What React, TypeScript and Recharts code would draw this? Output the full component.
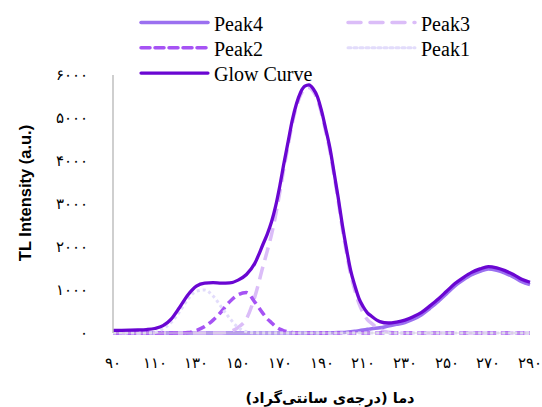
import React from 'react';
import { LineChart, Line, XAxis, YAxis, Legend } from 'recharts';

const temps = [
  90, 94, 98, 102, 106, 110, 114, 118,
  122, 126, 130, 134, 138, 142, 146, 150,
  154, 158, 162, 164, 166, 168, 170, 172,
  174, 176, 178, 180, 182, 184, 186, 188,
  190, 192, 194, 196, 198, 200, 202, 204,
  206, 208, 210, 212, 214, 218, 222, 226,
  230, 234, 238, 242, 246, 250, 254, 258,
  262, 266, 270, 274, 278, 282, 286, 290,
];

const glowCurve = [
  60, 62, 65, 70, 80, 105, 170, 330,
  600, 890, 1090, 1160, 1170, 1160, 1165, 1230,
  1360, 1620, 2070, 2300, 2580, 2950, 3420, 3950,
  4450, 4950, 5330, 5600, 5740, 5770, 5680, 5500,
  5170, 4750, 4310, 3740, 3150, 2510, 1950, 1450,
  1100, 800, 610, 470, 390, 265, 232, 255,
  300, 380, 480, 630, 790, 970, 1150, 1290,
  1410, 1490, 1545, 1515, 1450, 1360, 1250, 1180,
];

const peak1 = [
  0, 0, 0, 0, 0, 10, 100, 250,
  500, 790, 970, 1000, 860, 600, 340, 130,
  30, 5, 0, 0, 0, 0, 0, 0,
  0, 0, 0, 0, 0, 0, 0, 0,
  0, 0, 0, 0, 0, 0, 0, 0,
  0, 0, 0, 0, 0, 0, 0, 0,
  0, 0, 0, 0, 0, 0, 0, 0,
  0, 0, 0, 0, 0, 0, 0, 0,
];

const peak2 = [
  0, 0, 0, 0, 0, 0, 0, 0,
  0, 10, 60, 150, 300, 500, 730, 890,
  940, 720, 450, 330, 240, 150, 90, 50,
  25, 10, 0, 0, 0, 0, 0, 0,
  0, 0, 0, 0, 0, 0, 0, 0,
  0, 0, 0, 0, 0, 0, 0, 0,
  0, 0, 0, 0, 0, 0, 0, 0,
  0, 0, 0, 0, 0, 0, 0, 0,
];

const peak3 = [
  0, 0, 0, 0, 0, 0, 0, 0,
  0, 0, 0, 0, 0, 0, 30, 130,
  330, 840, 1560, 1910, 2280, 2740, 3270, 3840,
  4365, 4880, 5270, 5540, 5680, 5710, 5620, 5440,
  5110, 4690, 4245, 3675, 3080, 2430, 1870, 1360,
  995, 680, 465, 310, 225, 80, 20, 5,
  0, 0, 0, 0, 0, 0, 0, 0,
  0, 0, 0, 0, 0, 0, 0, 0,
];

const peak4 = [
  0, 0, 0, 0, 0, 0, 0, 0,
  0, 0, 0, 0, 0, 0, 0, 0,
  0, 0, 0, 0, 0, 0, 0, 0,
  0, 0, 0, 0, 0, 0, 0, 0,
  0, 2, 4, 6, 9, 13, 19, 28,
  40, 55, 70, 85, 100, 120, 160, 200,
  245, 320, 425, 575, 735, 915, 1095, 1235,
  1355, 1435, 1490, 1460, 1395, 1305, 1195, 1125,
];

const xTicks = [90, 110, 130, 150, 170, 190, 210, 230, 250, 270, 290];
const yTicks = [0, 1000, 2000, 3000, 4000, 5000, 6000];

const xTitle = 'دما (درجه‌ی سانتی‌گراد)';
const yTitle = 'TL Intensity  (a.u.)';

const persianDigits = '۰۱۲۳۴۵۶۷۸۹';
const toPersian = (n: number) => String(n).replace(/\d/g, (d) => persianDigits[+d]);

const data = temps.map((t, i) => ({
  t,
  glow: glowCurve[i],
  p1: peak1[i],
  p2: peak2[i],
  p3: peak3[i],
  p4: peak4[i],
}));

const C_GLOW = '#6a06d2';
const C_P4 = '#9b70f0';
const C_P3 = '#dbbdf8';
const C_P2 = '#a653f4';
const C_P1 = '#e2dcfb';

const SERIF = "'Times New Roman', 'Liberation Serif', Times, serif";

const legendItems = [
  { name: 'Peak4', color: C_P4, dash: undefined, col: 0, row: 0, w: 3.5 },
  { name: 'Peak3', color: C_P3, dash: '13 9', col: 1, row: 0, w: 3.5 },
  { name: 'Peak2', color: C_P2, dash: '9 5', col: 0, row: 1, w: 3.5 },
  { name: 'Peak1', color: C_P1, dash: '3 3', col: 1, row: 1, w: 3 },
  { name: 'Glow Curve', color: C_GLOW, dash: undefined, col: 0, row: 2, w: 3.2 },
];

const renderLegend = () => (
  <svg width={542} height={90} style={{ display: 'block', overflow: 'visible' }}>
    {legendItems.map((it) => {
      const x0 = it.col === 0 ? 141 : 348;
      const y = 22.5 + it.row * 25.3;
      return (
        <g key={it.name}>
          <line x1={x0} x2={x0 + 67} y1={y} y2={y} stroke={it.color} strokeWidth={it.w}
            strokeDasharray={it.dash} strokeLinecap="round" />
          <text x={x0 + 73} y={y + 8} style={{ fontFamily: SERIF, fontSize: 20 }} fill="#000">
            {it.name}
          </text>
        </g>
      );
    })}
  </svg>
);

const XTick = (props: any) => {
  const { x, payload } = props;
  return (
    <text x={x} y={368} textAnchor="middle" style={{ fontFamily: SERIF, fontSize: 15, letterSpacing: 1 }} fill="#000">
      {toPersian(payload.value)}
    </text>
  );
};

const YTick = (props: any) => {
  const { y, payload } = props;
  return (
    <text x={88} y={y + 5} textAnchor="end" style={{ fontFamily: SERIF, fontSize: 15, letterSpacing: 2.5 }} fill="#000">
      {toPersian(payload.value)}
    </text>
  );
};

const YTitle = () => (
  <text x={31} y={193} transform="rotate(-90 31 193)" textAnchor="middle"
    style={{ fontFamily: "'Liberation Sans', Arial, sans-serif", fontWeight: 'bold', fontSize: 16.5 }} fill="#000">
    {yTitle}
  </text>
);

const XTitle = () => (
  <text x={330} y={403} textAnchor="middle" direction="rtl"
    style={{ fontFamily: "'DejaVu Sans', sans-serif", fontWeight: 'bold', fontSize: 14.5, direction: 'rtl', unicodeBidi: 'embed' }} fill="#000">
    {xTitle}
  </text>
);

export default function App() {
  return (
    <div style={{ position: 'absolute', left: 0, top: 0, width: 542, height: 407, background: '#fff' }}>
      <LineChart width={542} height={407} data={data} margin={{ top: 75, right: 12, bottom: 24, left: 0 }}>
        <XAxis dataKey="t" type="number" domain={[90, 290]} ticks={xTicks} interval={0}
          axisLine={{ stroke: '#d9d9d9' }} tickLine={false} height={50} tick={<XTick />}
          label={<XTitle />} />
        <YAxis type="number" domain={[0, 6000]} ticks={yTicks} interval={0} width={113}
          axisLine={{ stroke: '#bfbfbf', strokeWidth: 1.5 }} tickLine={false} tick={<YTick />}
          label={<YTitle />} />
        <Legend content={renderLegend} verticalAlign="top"
          wrapperStyle={{ position: 'absolute', top: 0, left: 0, width: 542, height: 0, overflow: 'visible' }} />
        <Line dataKey="p4" name="Peak4" type="monotone" stroke={C_P4} strokeWidth={3.5} dot={false} isAnimationActive={false} />
        <Line dataKey="p3" name="Peak3" type="monotone" stroke={C_P3} strokeWidth={3.5} strokeDasharray="13 7" dot={false} isAnimationActive={false} />
        <Line dataKey="p2" name="Peak2" type="monotone" stroke={C_P2} strokeWidth={3.5} strokeDasharray="9 5" dot={false} isAnimationActive={false} />
        <Line dataKey="p1" name="Peak1" type="monotone" stroke={C_P1} strokeWidth={3} strokeDasharray="3 3" dot={false} isAnimationActive={false} />
        <Line dataKey="glow" name="Glow Curve" type="monotone" stroke={C_GLOW} strokeWidth={3.3} dot={false} isAnimationActive={false} />
      </LineChart>
    </div>
  );
}
